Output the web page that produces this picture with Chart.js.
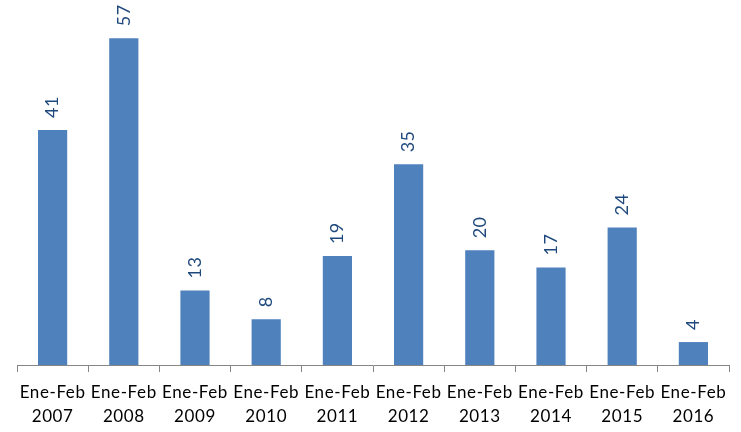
<!DOCTYPE html>
<html>
<head>
<meta charset="utf-8">
<script src="https://cdn.jsdelivr.net/npm/chart.js@4/dist/chart.umd.min.js"></script>
<style>
  html, body { margin: 0; padding: 0; background: #fff; }
  #wrap { width: 741px; height: 432px; }
</style>
</head>
<body>
<div id="wrap"><canvas id="chart"></canvas></div>
<script>
// Datos del grafico
const categorias = [
    ['Ene-Feb', '2007'], ['Ene-Feb', '2008'], ['Ene-Feb', '2009'], ['Ene-Feb', '2010'], ['Ene-Feb', '2011'],
    ['Ene-Feb', '2012'], ['Ene-Feb', '2013'], ['Ene-Feb', '2014'], ['Ene-Feb', '2015'], ['Ene-Feb', '2016']
];
const valores = [41, 57, 13, 8, 19, 35, 20, 17, 24, 4];
const yMax = 60;

const barColor = '#4F81BD';
const labelColor = '#1F497D';
const axisColor = '#868686';

// Espaciado de letras como en el original
const espaciadoPlugin = {
    id: 'espaciado',
    beforeDraw(chart) { chart.ctx.letterSpacing = '0.6px'; }
};

// Etiquetas verticales encima de cada barra
const etiquetasPlugin = {
    id: 'etiquetas',
    afterDatasetsDraw(chart) {
        const ctx = chart.ctx;
        const meta = chart.getDatasetMeta(0);
        ctx.save();
        ctx.fillStyle = labelColor;
        ctx.font = '18px Lato';
        ctx.letterSpacing = '0.5px';
        ctx.textAlign = 'left';
        ctx.textBaseline = 'middle';
        meta.data.forEach((bar, i) => {
            ctx.save();
            ctx.translate(bar.x, bar.y - 12);
            ctx.rotate(-Math.PI / 2);
            ctx.fillText(String(valores[i]), 0, 0);
            ctx.restore();
        });
        ctx.restore();
    }
};

const ctx = document.getElementById('chart').getContext('2d');
new Chart(ctx, {
    type: 'bar',
    data: {
        labels: categorias,
        datasets: [{
            data: valores,
            backgroundColor: barColor,
            borderWidth: 0,
            barPercentage: 0.41,
            categoryPercentage: 1
        }]
    },
    options: {
        responsive: true,
        maintainAspectRatio: false,
        animation: false,
        layout: { padding: { left: 17, right: 12, top: 21, bottom: 0 } },
        plugins: { legend: { display: false }, tooltip: { enabled: false } },
        scales: {
            x: {
                afterFit(scale) { scale.height = 67; },
                grid: { display: true, drawOnChartArea: false, drawTicks: true, tickLength: 7, color: axisColor, offset: true },
                border: { display: true, color: axisColor, width: 1 },
                ticks: { color: '#000', font: { family: 'Lato', size: 17, lineHeight: 1.4 }, maxRotation: 0, autoSkip: false, padding: 9 }
            },
            y: { display: false, min: 0, max: yMax }
        }
    },
    plugins: [espaciadoPlugin, etiquetasPlugin]
});
</script>
</body>
</html>
